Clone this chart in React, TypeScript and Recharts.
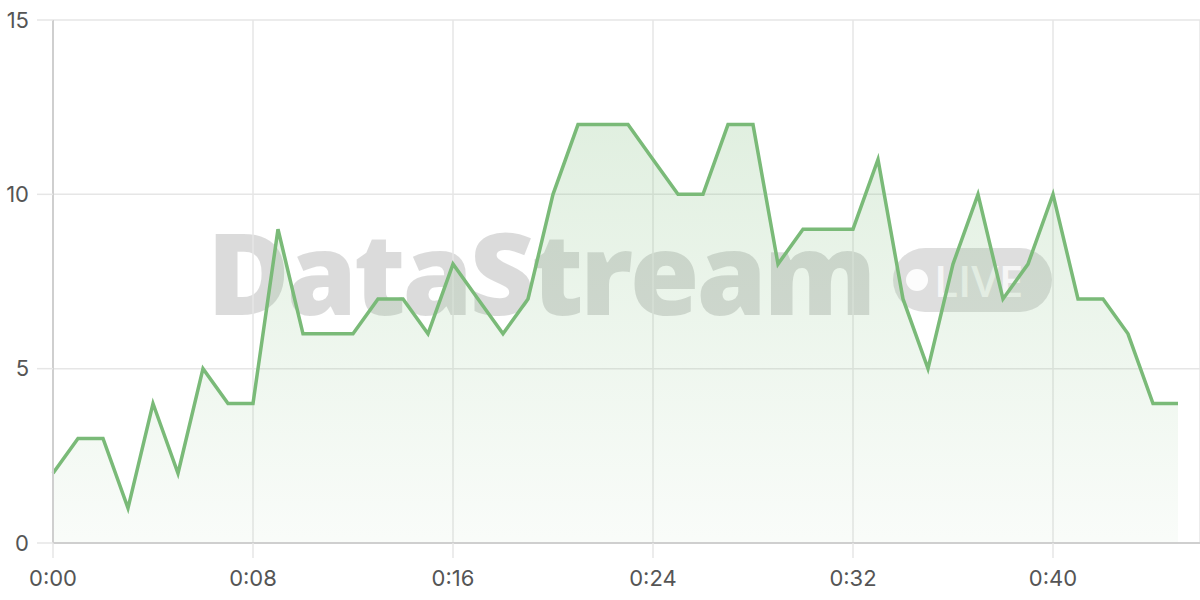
import { AreaChart, Area, XAxis, YAxis, CartesianGrid } from "recharts";

// viewers per minute, one value per minute from 0:00
const minutes = [
  0, 1, 2, 3, 4, 5, 6, 7, 8, 9, 10, 11, 12, 13, 14, 15, 16, 17, 18, 19, 20, 21, 22,
  23, 24, 25, 26, 27, 28, 29, 30, 31, 32, 33, 34, 35, 36, 37, 38, 39, 40, 41, 42, 43, 44, 45,
];
const viewers = [
  2, 3, 3, 1, 4, 2, 5, 4, 4, 9, 6, 6, 6, 7, 7, 6, 8, 7, 6, 7, 10, 12, 12,
  12, 11, 10, 10, 12, 12, 8, 9, 9, 9, 11, 7, 5, 8, 10, 7, 8, 10, 7, 7, 6, 4, 4,
];
const xTicks = [0, 8, 16, 24, 32, 40];
const yTicks = [0, 5, 10, 15];

const data = minutes.map((m, i) => ({ t: m, v: viewers[i] }));

const fmtTime = (m: number) => `0:${String(m).padStart(2, "0")}`;

const tickStyle = { fill: "#555", fontSize: 22, fontFamily: "Inter, sans-serif" };

const Watermark = () => (
  <div style={{ position: "absolute", left: 0, top: 0, width: 1200, height: 600, pointerEvents: "none" }}>
    <div
      style={{
        position: "absolute",
        left: 207,
        top: 196,
        fontFamily: "Open Sans, sans-serif",
        fontWeight: 800,
        fontSize: 113,
        letterSpacing: -3.3,
        lineHeight: "150px",
        color: "rgba(0,0,0,0.14)",
      }}
    >
      DataStream
    </div>
    <div
      style={{
        position: "absolute",
        left: 893,
        top: 248,
        width: 159,
        height: 64,
        borderRadius: 32,
        background: "rgba(0,0,0,0.13)",
      }}
    >
      <div
        style={{
          position: "absolute",
          left: 13,
          top: 21,
          width: 22,
          height: 22,
          borderRadius: 11,
          background: "rgba(255,255,255,0.9)",
        }}
      />
      <div
        style={{
          position: "absolute",
          left: 41,
          top: 0,
          lineHeight: "64px",
          fontFamily: "Open Sans, sans-serif",
          fontWeight: 600,
          fontSize: 44,
          color: "rgba(255,255,255,0.75)",
        }}
      >
        LIVE
      </div>
    </div>
  </div>
);

export default function App() {
  return (
    <div style={{ position: "absolute", left: 0, top: 0, width: 1200, height: 600, background: "#fff" }}>
      <Watermark />
      <div style={{ position: "absolute", left: 0, top: 0 }}>
        <AreaChart width={1200} height={600} data={data} margin={{ top: 20, right: 0, bottom: 0, left: 0 }}>
          <defs>
            <linearGradient id="viewFill" x1="0" y1="0" x2="0" y2="1">
              <stop offset="0%" stopColor="#7aba78" stopOpacity={0.38} />
              <stop offset="100%" stopColor="#7aba78" stopOpacity={0.07} />
            </linearGradient>
          </defs>
          <CartesianGrid stroke="#e6e6e6" strokeWidth={1.5} />
          <XAxis
            dataKey="t"
            type="number"
            domain={[0, 45.88]}
            ticks={xTicks}
            tickFormatter={fmtTime}
            height={57}
            tickSize={15}
            tickMargin={12}
            tick={tickStyle}
            axisLine={{ stroke: "#cfcfcf", strokeWidth: 2 }}
            tickLine={{ stroke: "#e6e6e6", strokeWidth: 1.5 }}
          />
          <YAxis
            domain={[0, 15]}
            ticks={yTicks}
            width={53}
            tickSize={16}
            tickMargin={8}
            tick={tickStyle}
            axisLine={{ stroke: "#cfcfcf", strokeWidth: 2 }}
            tickLine={{ stroke: "#e6e6e6", strokeWidth: 1.5 }}
          />
          <Area
            type="linear"
            dataKey="v"
            stroke="#7aba78"
            strokeWidth={3.5}
            fill="url(#viewFill)"
            dot={false}
            activeDot={false}
            isAnimationActive={false}
          />
        </AreaChart>
      </div>
    </div>
  );
}
